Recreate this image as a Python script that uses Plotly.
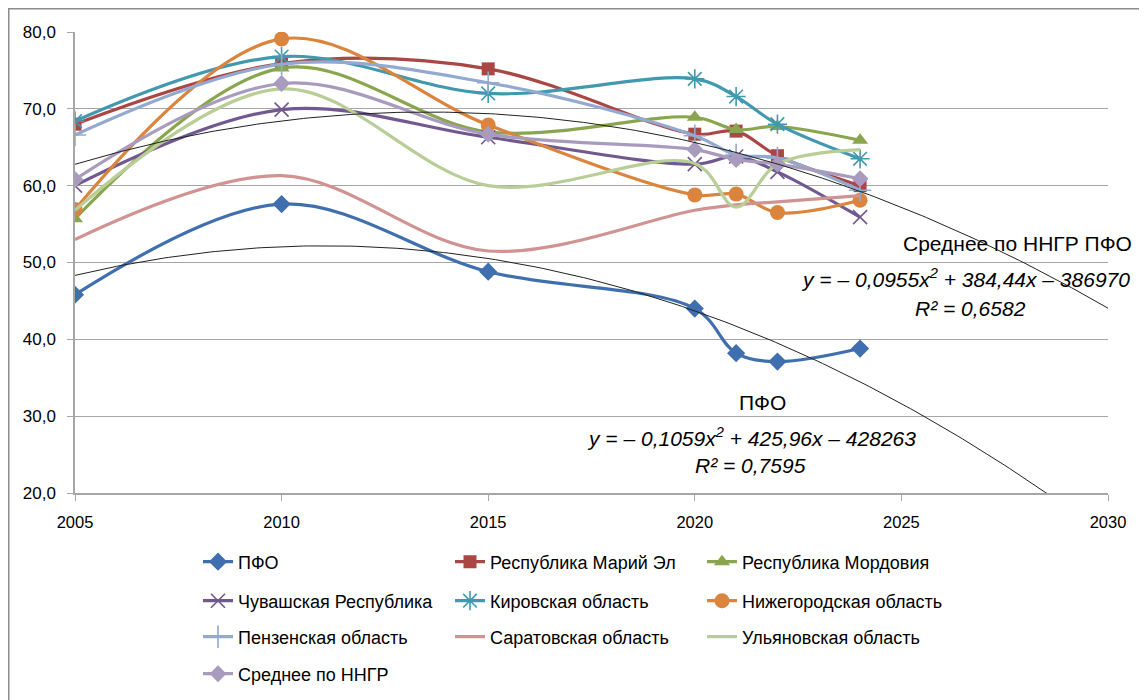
import numpy as np
import plotly.graph_objects as go

years = [2005, 2010, 2015, 2020, 2021, 2022, 2024]

pfo = [45.8, 57.6, 48.8, 44.0, 38.2, 37.1, 38.8]
mari_el = [68.0, 75.9, 75.2, 66.7, 67.1, 63.9, 60.0]
mordovia = [55.7, 75.3, 67.0, 68.9, 67.3, 67.7, 65.9]
chuvash = [60.0, 69.9, 66.3, 62.8, 63.8, 61.8, 55.9]
kirov = [68.4, 76.8, 72.0, 73.9, 71.6, 68.0, 63.5]
nizhny = [56.9, 79.1, 67.9, 58.8, 58.9, 56.5, 58.1]
penza = [66.6, 75.8, 73.4, 66.5, 64.0, 63.6, 59.4]
saratov = [53.0, 61.3, 51.5, 56.8, 57.5, 57.9, 58.7]
ulyanovsk = [56.8, 72.6, 60.0, 62.9, 57.2, 62.8, 64.7]
avg_nngr = [60.8, 73.3, 66.7, 64.7, 63.4, 62.8, 60.9]

series_names = ["ПФО", "Республика Марий Эл", "Республика Мордовия",
                "Чувашская Республика", "Кировская область", "Нижегородская область",
                "Пензенская область", "Саратовская область", "Ульяновская область",
                "Среднее по ННГР"]
series_values = [pfo, mari_el, mordovia, chuvash, kirov, nizhny, penza, saratov,
                 ulyanovsk, avg_nngr]
colors = ["#3F6FAE", "#AA4643", "#89A54E", "#71588F", "#4198AF", "#DB843D",
          "#93A9CF", "#D19392", "#B9CD96", "#A99BBD"]
symbols = ["diamond", "square", "triangle-up", "x-thin-open", "asterisk-open",
           "circle", "cross-thin-open", None, None, "diamond"]
sizes = [14, 13, 14, 14, 16, 15, 16, 0, 0, 13]
legend_ids = ["legend", "legend", "legend", "legend2", "legend2", "legend2",
              "legend3", "legend3", "legend3", "legend4"]

trend_labels = [
    ("Среднее по ННГР ПФО", "y = – 0,0955x<sup>2</sup> + 384,44x – 386970", "R² = 0,6582"),
    ("ПФО", "y = – 0,1059x<sup>2</sup> + 425,96x – 428263", "R² = 0,7595"),
]

FONT = "Liberation Sans, Arial, sans-serif"

# page body adds an 8px offset; plot area in page pixels: x 75..1108, y 32..493
OFF = 8
L, T, PW, PH = 75 - OFF, 32 - OFF, 1033, 461
W, H = 1147 - OFF, 700 - OFF

fig = go.Figure()

for name, vals, col, sym, sz, lg in zip(series_names, series_values, colors, symbols,
                                        sizes, legend_ids):
    if sym is None:
        mode = "lines"
        marker = None
    else:
        mode = "lines+markers"
        marker = dict(symbol=sym, size=sz, color=col,
                      line=dict(color=col, width=1.6 if "open" in sym else 0))
    fig.add_trace(go.Scatter(
        x=years, y=vals, name=name, mode=mode,
        line=dict(color=col, width=3.2, shape="spline", smoothing=1.0),
        marker=marker, legend=lg))

# polynomial (order 2) trendlines, forecast to 2030
xt = np.linspace(2005, 2030, 200)
for vals in (avg_nngr, pfo):
    coef = np.polyfit(years, vals, 2)
    fig.add_trace(go.Scatter(x=xt, y=np.polyval(coef, xt), mode="lines",
                             line=dict(color="#222222", width=1), showlegend=False,
                             hoverinfo="skip"))

# page pixel helpers -> data coordinates for label placement
def dx(px):
    return 2005 + (px - 75) / PW * 25

def dy(py):
    return 20 + (493 - py) / PH * 60

ann = []
(t1, e1, r1), (t2, e2, r2) = trend_labels
for txt, cx, cy, it in [(t1, 1017, 243, False), (e1, 965, 278, True), (r1, 970, 308, True),
                        (t2, 762, 402, False), (e2, 751, 437, True), (r2, 750, 465, True)]:
    ann.append(dict(x=dx(cx), y=dy(cy), xref="x", yref="y", showarrow=False,
                    text=("<i>%s</i>" % txt) if it else txt,
                    font=dict(family=FONT, size=21, color="#000000"),
                    xanchor="center", yanchor="middle"))

legend_common = dict(orientation="h", xanchor="left", yanchor="middle",
                     entrywidth=207, entrywidthmode="pixels",
                     font=dict(family=FONT, size=18, color="#000000"),
                     bgcolor="rgba(0,0,0,0)", itemclick=False, traceorder="normal")
lx = (198 - 75) / PW
rows_y = [(493 - py) / PH for py in (562, 601, 637, 674)]

fig.update_layout(
    width=W, height=H,
    margin=dict(l=L, r=W - L - PW, t=T, b=H - T - PH, pad=0, autoexpand=False),
    paper_bgcolor="white", plot_bgcolor="white",
    separators=", ",
    font=dict(family=FONT, size=16, color="#000000"),
    annotations=ann,
    legend=dict(x=lx, y=rows_y[0], **legend_common),
    legend2=dict(x=lx, y=rows_y[1], **legend_common),
    legend3=dict(x=lx, y=rows_y[2], **legend_common),
    legend4=dict(x=lx, y=rows_y[3], **legend_common),
    xaxis=dict(range=[2005, 2030], dtick=5, tick0=2005, showgrid=False,
               showline=True, linecolor="#A6A6A6", linewidth=1.5,
               ticks="outside", ticklen=6, tickcolor="#A6A6A6", ticklabelstandoff=7,
               tickfont=dict(family=FONT, size=16.5, color="#000000"), zeroline=False),
    yaxis=dict(range=[20, 80], dtick=10, tickformat=".1f", showgrid=True,
               gridcolor="#A6A6A6", gridwidth=1, showline=True, linecolor="#A6A6A6",
               linewidth=1.5, ticks="outside", ticklen=6, tickcolor="#A6A6A6",
               ticklabelstandoff=8,
               tickfont=dict(family=FONT, size=17, color="#000000"), zeroline=False),
    shapes=[dict(type="rect", xref="paper", yref="paper",
                 x0=(0.75 - L) / PW, x1=1.2, y0=-0.6, y1=1 + (T - 0.75) / PH,
                 line=dict(color="#8C8C8C", width=1.5), layer="below")],
    showlegend=True,
)

fig.write_html("out.html")
